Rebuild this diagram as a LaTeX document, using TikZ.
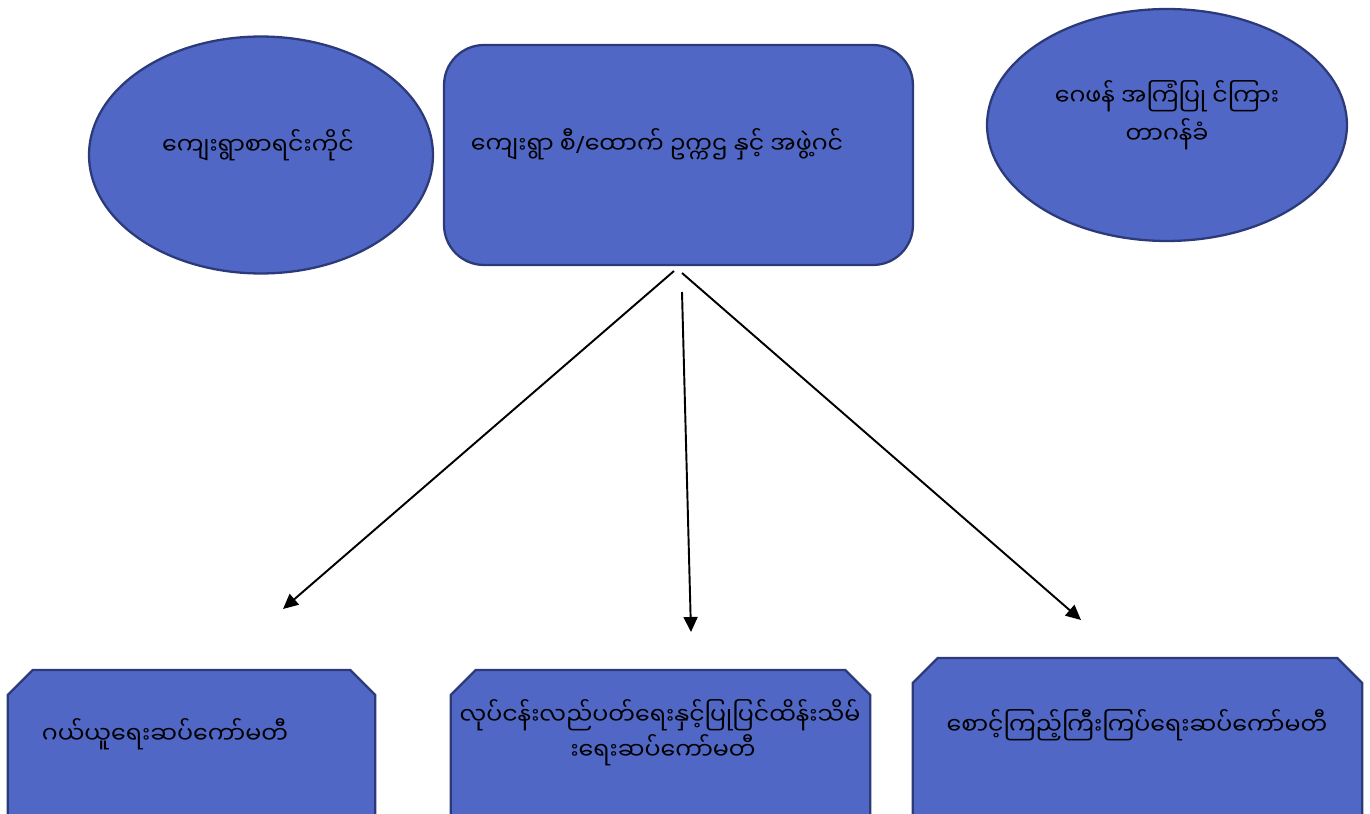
\documentclass[tikz,border=0pt]{standalone}
\usepackage{fontspec}
\newfontfamily\mmfont[Script=Myanmar]{Noto Sans Myanmar UI}
\newfontfamily\latinfont{Noto Sans}
\usepackage{tikz}
\usetikzlibrary{arrows.meta, shapes.geometric}
\definecolor{boxFill}{RGB}{80, 103, 198}
\definecolor{edgeLine}{RGB}{44, 58, 122}
\tikzset{
    chief_oval/.style={
        ellipse,
        draw=edgeLine,
        line width=1.3pt,
        fill=boxFill,
        inner sep=0pt
    },
    chief_box/.style={
        rectangle,
        rounded corners=0.8cm,
        draw=edgeLine,
        line width=1.3pt,
        fill=boxFill,
        inner sep=0pt
    },
    sub_frame/.style={
        rectangle,
        inner sep=0pt,
        anchor=north,
        minimum height=6cm
    },
    sub_box/.style={
        draw=edgeLine,
        line width=1.3pt,
        fill=boxFill
    },
    box_text/.style={
        font=\mmfont\fontsize{13.5}{20}\selectfont,
        align=center,
        inner sep=0pt
    },
    tie_edge/.style={
        -{Triangle[length=0.3cm, width=0.28cm]},
        line width=1.1pt,
        draw=black
    }
}

\begin{document}
\begin{tikzpicture}[x=0.02cm, y=-0.02cm]
    \useasboundingbox (0,0) rectangle (1370,814);
    \clip (0,0) rectangle (1370,814);

    \node[chief_oval, minimum width=6.88cm, minimum height=4.74cm] (clerk) at (261,155) {};
    \node[box_text] (clerk_txt) at (258,145) {ကျေးရွာစာရင်းကိုင်};
    \node[chief_box, minimum width=9.38cm, minimum height=4.4cm] (chair) at (678.5,155) {};
    \node[box_text] (chair_txt) at (657,144) {ကျေးရွာ စီ{\latinfont/}ထောက် ဥက္ကဌ နှင့် အဖွဲ့ဂင်};
    \node[chief_oval, minimum width=7.2cm, minimum height=4.64cm] (critic) at (1167,125) {};
    \node[box_text, font=\mmfont\fontsize{13.5}{21.5}\selectfont] (critic_txt) at (1167,115) {ဂေဖန် အကြံပြု င်ကြား\\တာဂန်ခံ};

    \node[sub_frame, minimum width=7.34cm] (buy) at (191.5,670) {};
    \node[sub_frame, minimum width=8.38cm] (maint) at (660.5,670) {};
    \node[sub_frame, minimum width=8.98cm] (watch) at (1137.5,658) {};
    \foreach \panel in {buy, maint, watch}
        \path[sub_box] (\panel.south west) -- ([yshift=-0.5cm]\panel.north west)
            -- ([xshift=0.5cm]\panel.north west) -- ([xshift=-0.5cm]\panel.north east)
            -- ([yshift=-0.5cm]\panel.north east) -- (\panel.south east) -- cycle;
    \node[box_text] (buy_txt) at (165,734) {ဂယ်ယူရေးဆပ်ကော်မတီ};
    \node[box_text, font=\mmfont\fontsize{13.5}{19.8}\selectfont] (maint_txt) at (660,733) {လုပ်ငန်းလည်ပတ်ရေးနှင့်ပြုပြင်ထိန်းသိမ်\\^^^^00a0းရေးဆပ်ကော်မတီ};
    \node[box_text] (watch_txt) at (1137,725) {စောင့်ကြည့်ကြီးကြပ်ရေးဆပ်ကော်မတီ};

    \coordinate (fork_a) at (674,271);
    \coordinate (fork_b) at (682,292);
    \coordinate (fork_c) at (682,273);
    \coordinate (buy_tip) at (283,609);
    \coordinate (maint_tip) at (691,632);
    \coordinate (watch_tip) at (1081,620);

    \path
        (fork_a) edge[tie_edge] (buy_tip)
        (fork_b) edge[tie_edge] (maint_tip)
        (fork_c) edge[tie_edge] (watch_tip);
\end{tikzpicture}
\end{document}
